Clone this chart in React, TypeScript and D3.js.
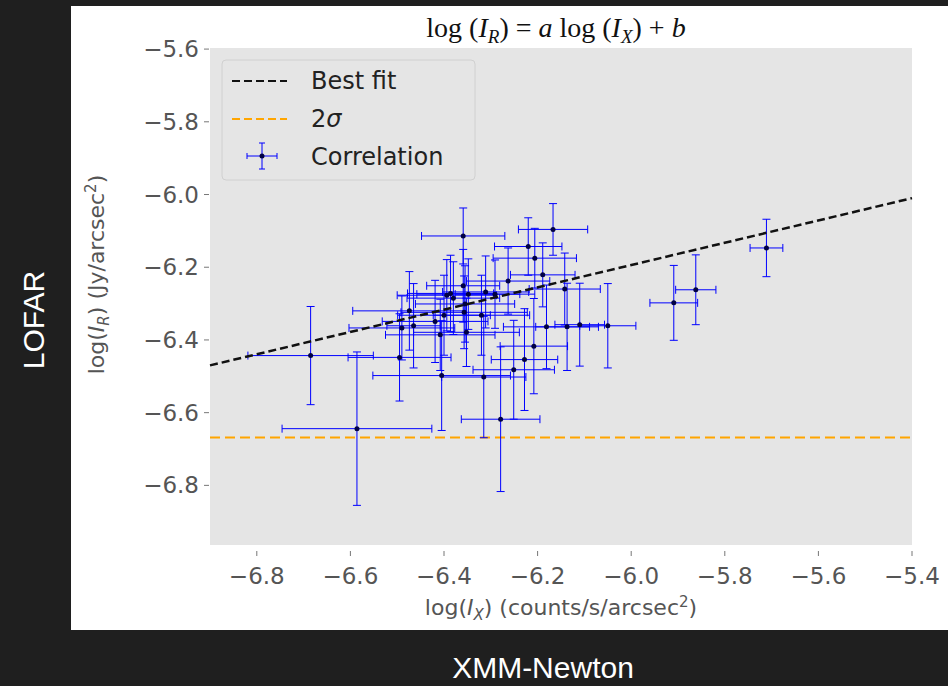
import React, { useEffect, useRef } from 'react';
import * as d3 from 'd3';

// log(I_X), log(I_R) and their errors
const xVals = [-6.685, -6.586, -6.495, -6.490, -6.474, -6.465, -6.419, -6.408, -6.405, -6.400, -6.394, -6.386, -6.380, -6.359, -6.359, -6.357, -6.355, -6.352, -6.348, -6.320, -6.315, -6.311, -6.291, -6.279, -6.263, -6.251, -6.228, -6.220, -6.208, -6.206, -6.189, -6.181, -6.167, -6.142, -6.137, -6.110, -6.050, -5.909, -5.862, -5.711];
const xErrs = [0.134, 0.160, 0.110, 0.113, 0.121, 0.057, 0.113, 0.117, 0.147, 0.099, 0.106, 0.092, 0.099, 0.089, 0.078, 0.135, 0.106, 0.113, 0.110, 0.103, 0.090, 0.092, 0.085, 0.084, 0.089, 0.087, 0.071, 0.072, 0.072, 0.089, 0.069, 0.092, 0.074, 0.076, 0.067, 0.053, 0.060, 0.051, 0.043, 0.035];
const yVals = [-6.443, -6.644, -6.448, -6.367, -6.320, -6.361, -6.349, -6.386, -6.498, -6.332, -6.277, -6.272, -6.285, -6.114, -6.251, -6.324, -6.301, -6.379, -6.274, -6.332, -6.502, -6.268, -6.274, -6.618, -6.238, -6.482, -6.454, -6.143, -6.417, -6.175, -6.221, -6.364, -6.096, -6.260, -6.364, -6.358, -6.361, -6.298, -6.262, -6.147];
const yErrs = [0.135, 0.211, 0.120, 0.088, 0.108, 0.116, 0.113, 0.098, 0.151, 0.110, 0.098, 0.105, 0.100, 0.077, 0.100, 0.100, 0.105, 0.094, 0.097, 0.110, 0.167, 0.099, 0.094, 0.199, 0.091, 0.136, 0.140, 0.079, 0.131, 0.082, 0.088, 0.115, 0.071, 0.099, 0.120, 0.114, 0.116, 0.103, 0.096, 0.079];

const fitEnds = [[-6.9, -6.470], [-5.4, -6.010]];
const sigma2 = -6.668;
const xTicks = [-6.8, -6.6, -6.4, -6.2, -6.0, -5.8, -5.6, -5.4];
const yTicks = [-5.6, -5.8, -6.0, -6.2, -6.4, -6.6, -6.8];

const App: React.FC = () => {
  const svgRef = useRef<SVGSVGElement>(null);

  useEffect(() => {
    if (!svgRef.current) return;
    const svg = d3.select(svgRef.current);
    svg.selectAll('*').remove();
    const width = 948;
    const height = 686;
    const m = { left: 210, right: 912, top: 48, bottom: 545 };

    svg.append('rect').attr('width', width).attr('height', height).attr('fill', '#1f1f1f');
    svg.append('rect').attr('x', 71).attr('y', 6).attr('width', 877).attr('height', 624).attr('fill', '#ffffff');
    svg.append('rect').attr('x', m.left).attr('y', m.top)
      .attr('width', m.right - m.left).attr('height', m.bottom - m.top).attr('fill', '#e5e5e5');

    const x = d3.scaleLinear().domain([-6.9, -5.4]).range([m.left, m.right]);
    const y = d3.scaleLinear().domain([-6.964, -5.597]).range([m.bottom, m.top]);
    const fmt = (v: number) => v.toFixed(1).replace('-', '\u2212');

    // ticks
    const font = 'DejaVu Sans, sans-serif';
    xTicks.forEach(t => {
      svg.append('line').attr('x1', x(t)).attr('x2', x(t)).attr('y1', m.bottom + 6).attr('y2', m.bottom + 11)
        .attr('stroke', '#777').attr('stroke-width', 1);
      svg.append('text').attr('x', x(t)).attr('y', m.bottom + 39).attr('text-anchor', 'middle')
        .attr('font-family', font).attr('font-size', 23).attr('fill', '#555').text(fmt(t));
    });
    yTicks.forEach(t => {
      svg.append('line').attr('x1', m.left - 6).attr('x2', m.left - 1).attr('y1', y(t)).attr('y2', y(t))
        .attr('stroke', '#777').attr('stroke-width', 1);
      svg.append('text').attr('x', m.left - 11).attr('y', y(t) + 8).attr('text-anchor', 'end')
        .attr('font-family', font).attr('font-size', 23).attr('fill', '#555').text(fmt(t));
    });

    // axis labels
    const xl = svg.append('text').attr('x', 561).attr('y', 615).attr('text-anchor', 'middle')
      .attr('font-family', font).attr('font-size', 22).attr('fill', '#555');
    xl.append('tspan').text('log(');
    xl.append('tspan').attr('font-style', 'italic').text('I');
    xl.append('tspan').attr('font-style', 'italic').attr('font-size', 15).attr('dy', 5).text('X');
    xl.append('tspan').attr('dy', -5).text(') (counts/s/arcsec');
    xl.append('tspan').attr('font-size', 15).attr('dy', -8).text('2');
    xl.append('tspan').attr('dy', 8).text(')');

    const yl = svg.append('text').attr('transform', `translate(104,${(m.top + m.bottom) / 2 - 22}) rotate(-90)`)
      .attr('text-anchor', 'middle').attr('font-family', font).attr('font-size', 22).attr('fill', '#555');
    yl.append('tspan').text('log(');
    yl.append('tspan').attr('font-style', 'italic').text('I');
    yl.append('tspan').attr('font-style', 'italic').attr('font-size', 15).attr('dy', 5).text('R');
    yl.append('tspan').attr('dy', -5).text(') (Jy/arcsec');
    yl.append('tspan').attr('font-size', 15).attr('dy', -8).text('2');
    yl.append('tspan').attr('dy', 8).text(')');

    // title
    const serif = 'Liberation Serif, DejaVu Serif, serif';
    const tt = svg.append('text').attr('x', 556).attr('y', 37).attr('text-anchor', 'middle')
      .attr('font-family', serif).attr('font-size', 28).attr('fill', '#111');
    tt.append('tspan').text('log (');
    tt.append('tspan').attr('font-style', 'italic').text('I');
    tt.append('tspan').attr('font-style', 'italic').attr('font-size', 19).attr('dy', 6).text('R');
    tt.append('tspan').attr('dy', -6).text(') = ');
    tt.append('tspan').attr('font-style', 'italic').text('a');
    tt.append('tspan').text(' log (');
    tt.append('tspan').attr('font-style', 'italic').text('I');
    tt.append('tspan').attr('font-style', 'italic').attr('font-size', 19).attr('dy', 6).text('X');
    tt.append('tspan').attr('dy', -6).text(') + ');
    tt.append('tspan').attr('font-style', 'italic').text('b');

    // LOFAR / XMM-Newton
    svg.append('text').attr('transform', 'translate(44,320) rotate(-90)').attr('text-anchor', 'middle')
      .attr('font-family', 'Liberation Sans, Arial, sans-serif').attr('font-size', 30).attr('fill', '#fff').text('LOFAR');
    svg.append('text').attr('x', 543).attr('y', 678).attr('text-anchor', 'middle')
      .attr('font-family', 'Liberation Sans, Arial, sans-serif').attr('font-size', 30).attr('fill', '#fff').text('XMM-Newton');

    const plot = svg.append('g');

    // 2 sigma line
    plot.append('line').attr('x1', m.left).attr('x2', m.right).attr('y1', y(sigma2)).attr('y2', y(sigma2))
      .attr('stroke', '#ffa500').attr('stroke-width', 2).attr('stroke-dasharray', '10,5');

    // error bars
    const cap = 4;
    xVals.forEach((xv, i) => {
      const px = x(xv), py = y(yVals[i]);
      const x0 = x(xv - xErrs[i]), x1 = x(xv + xErrs[i]);
      const y0 = y(yVals[i] - yErrs[i]), y1 = y(yVals[i] + yErrs[i]);
      const g = plot.append('g').attr('stroke', '#0000ff').attr('stroke-width', 1);
      g.append('line').attr('x1', x0).attr('x2', x1).attr('y1', py).attr('y2', py);
      g.append('line').attr('x1', px).attr('x2', px).attr('y1', y0).attr('y2', y1);
      g.append('line').attr('x1', x0).attr('x2', x0).attr('y1', py - cap).attr('y2', py + cap);
      g.append('line').attr('x1', x1).attr('x2', x1).attr('y1', py - cap).attr('y2', py + cap);
      g.append('line').attr('x1', px - cap).attr('x2', px + cap).attr('y1', y0).attr('y2', y0);
      g.append('line').attr('x1', px - cap).attr('x2', px + cap).attr('y1', y1).attr('y2', y1);
    });
    xVals.forEach((xv, i) => {
      plot.append('circle').attr('cx', x(xv)).attr('cy', y(yVals[i])).attr('r', 2.5).attr('fill', '#000044');
    });

    // best fit
    plot.append('line').attr('x1', x(fitEnds[0][0])).attr('y1', y(fitEnds[0][1]))
      .attr('x2', x(fitEnds[1][0])).attr('y2', y(fitEnds[1][1]))
      .attr('stroke', '#111').attr('stroke-width', 2.5).attr('stroke-dasharray', '8,4');

    // legend
    const lg = svg.append('g');
    lg.append('rect').attr('x', 222).attr('y', 60).attr('width', 253).attr('height', 120).attr('rx', 4)
      .attr('fill', '#e5e5e5').attr('stroke', '#d0d0d0');
    lg.append('line').attr('x1', 232).attr('x2', 287).attr('y1', 81).attr('y2', 81)
      .attr('stroke', '#111').attr('stroke-width', 2).attr('stroke-dasharray', '8,4');
    lg.append('line').attr('x1', 232).attr('x2', 287).attr('y1', 119).attr('y2', 119)
      .attr('stroke', '#ffa500').attr('stroke-width', 2).attr('stroke-dasharray', '8,4');
    const lx = 262, ly = 156;
    const lgb = lg.append('g').attr('stroke', '#0000ff').attr('stroke-width', 1);
    lgb.append('line').attr('x1', lx - 15).attr('x2', lx + 15).attr('y1', ly).attr('y2', ly);
    lgb.append('line').attr('x1', lx).attr('x2', lx).attr('y1', ly - 13).attr('y2', ly + 13);
    lgb.append('line').attr('x1', lx - 15).attr('x2', lx - 15).attr('y1', ly - 3).attr('y2', ly + 3);
    lgb.append('line').attr('x1', lx + 15).attr('x2', lx + 15).attr('y1', ly - 3).attr('y2', ly + 3);
    lgb.append('line').attr('x1', lx - 3).attr('x2', lx + 3).attr('y1', ly - 13).attr('y2', ly - 13);
    lgb.append('line').attr('x1', lx - 3).attr('x2', lx + 3).attr('y1', ly + 13).attr('y2', ly + 13);
    lg.append('circle').attr('cx', lx).attr('cy', ly).attr('r', 2.5).attr('fill', '#000044');
    const lt = (yy: number, s: string) => lg.append('text').attr('x', 311).attr('y', yy)
      .attr('font-family', font).attr('font-size', 24).attr('fill', '#222').text(s);
    lt(89, 'Best fit');
    lt(165, 'Correlation');
    const sg = lg.append('text').attr('x', 311).attr('y', 127)
      .attr('font-family', font).attr('font-size', 24).attr('fill', '#222');
    sg.append('tspan').text('2');
    sg.append('tspan').attr('font-style', 'italic').text('σ');
  }, []);

  return <svg ref={svgRef} width={948} height={686} style={{ position: 'absolute', left: 0, top: 0 }} />;
};

export default App;
